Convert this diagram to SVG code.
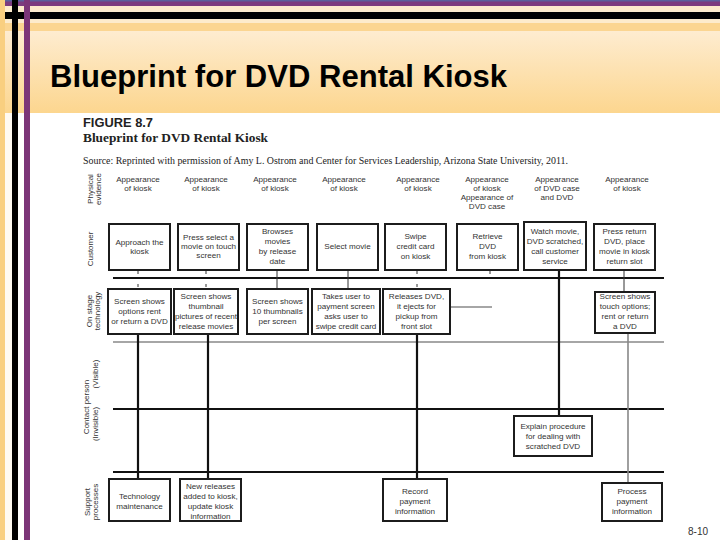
<svg xmlns="http://www.w3.org/2000/svg" width="720" height="540" viewBox="0 0 720 540">
<defs>
<linearGradient id="hdr" x1="0" y1="0" x2="0" y2="1">
<stop offset="0" stop-color="#feecd0"/>
<stop offset="1" stop-color="#fcd68f"/>
</linearGradient>
<style>
.t{font-family:"Liberation Sans",Arial,sans-serif;font-size:8.1px;fill:#333;text-anchor:middle}
.lb{font-family:"Liberation Sans",Arial,sans-serif;font-size:8px;fill:#333;text-anchor:middle}
.box{fill:#fff;stroke:#1c1c1c;stroke-width:2}
.blk{stroke:#111;stroke-width:2.2;fill:none}
.gry{stroke:#888;stroke-width:1.6;fill:none}
.tk{stroke:#333;stroke-width:1;fill:none}
</style>
</defs>
<!-- slide background -->
<rect x="0" y="0" width="720" height="540" fill="#ffffff"/>
<rect x="0" y="0" width="720" height="113" fill="#fdebcc"/>
<rect x="0" y="31" width="720" height="82" fill="url(#hdr)"/>
<rect x="0" y="23" width="720" height="8" fill="#fbd591"/>
<rect x="0" y="0" width="720" height="6" fill="#7c3b7f"/>
<rect x="0" y="0" width="720" height="1.5" fill="#5b5f9c"/>
<rect x="5" y="12" width="715" height="7" fill="#000"/>
<rect x="0" y="0" width="5" height="540" fill="#f9cf80"/>
<rect x="5" y="113" width="7" height="427" fill="#fffaf2"/>
<rect x="12" y="0" width="6" height="540" fill="#000"/>
<rect x="24" y="0" width="6" height="540" fill="#7c3578"/>
<text x="50" y="87" font-family="Liberation Sans,Arial,sans-serif" font-weight="bold" font-size="31" fill="#000" textLength="457" lengthAdjust="spacingAndGlyphs">Blueprint for DVD Rental Kiosk</text>

<!-- figure header -->
<text x="83" y="127" font-family="Liberation Sans,Arial,sans-serif" font-weight="bold" font-size="13" fill="#222" textLength="70" lengthAdjust="spacingAndGlyphs">FIGURE 8.7</text>
<text x="83" y="142" font-family="Liberation Serif,Times New Roman,serif" font-weight="bold" font-size="13.3" fill="#222" textLength="185" lengthAdjust="spacingAndGlyphs">Blueprint for DVD Rental Kiosk</text>
<text x="83" y="164" font-family="Liberation Serif,Times New Roman,serif" font-size="10" fill="#222" textLength="485" lengthAdjust="spacingAndGlyphs">Source: Reprinted with permission of Amy L. Ostrom and Center for Services Leadership, Arizona State University, 2011.</text>

<!-- row labels -->
<g id="row-labels">
<text class="lb" transform="translate(93,189) rotate(-90)">Physical</text>
<text class="lb" transform="translate(101,189) rotate(-90)">evidence</text>
<text class="lb" transform="translate(93,249) rotate(-90)">Customer</text>
<text class="lb" transform="translate(92,311) rotate(-90)">On stage</text>
<text class="lb" transform="translate(100,311) rotate(-90)">technology</text>
<text class="lb" transform="translate(89,407) rotate(-90)">Contact person</text>
<text class="lb" transform="translate(98,374) rotate(-90)">(Visible)</text>
<text class="lb" transform="translate(98,424) rotate(-90)">(Invisible)</text>
<text class="lb" transform="translate(90,502) rotate(-90)">Support</text>
<text class="lb" transform="translate(98,502) rotate(-90)">processes</text>
</g>

<!-- physical evidence -->
<g id="evidence">
<text class="t" x="138" y="182">Appearance</text><text class="t" x="138" y="191">of kiosk</text>
<text class="t" x="206" y="182">Appearance</text><text class="t" x="206" y="191">of kiosk</text>
<text class="t" x="275" y="182">Appearance</text><text class="t" x="275" y="191">of kiosk</text>
<text class="t" x="344" y="182">Appearance</text><text class="t" x="344" y="191">of kiosk</text>
<text class="t" x="418" y="182">Appearance</text><text class="t" x="418" y="191">of kiosk</text>
<text class="t" x="487" y="182">Appearance</text><text class="t" x="487" y="191">of kiosk</text><text class="t" x="487" y="200">Appearance of</text><text class="t" x="487" y="209">DVD case</text>
<text class="t" x="557" y="182">Appearance</text><text class="t" x="557" y="191">of DVD case</text><text class="t" x="557" y="200">and DVD</text>
<text class="t" x="627" y="182">Appearance</text><text class="t" x="627" y="191">of kiosk</text>
</g>

<!-- connectors and lines -->
<g id="connectors">
<line class="blk" x1="113" y1="278" x2="664" y2="278" stroke-width="2.6"/>
<line class="gry" x1="113" y1="342" x2="664" y2="342" stroke-width="2"/>
<line class="blk" x1="113" y1="409" x2="664" y2="409"/>
<line class="blk" x1="113" y1="472" x2="664" y2="472"/>
<line class="blk" x1="138" y1="334" x2="138" y2="479"/>
<line class="blk" x1="208" y1="334" x2="208" y2="479"/>
<line class="blk" x1="417" y1="334" x2="417" y2="479"/>
<line class="blk" x1="559" y1="270" x2="559" y2="416"/>
<line class="gry" x1="628" y1="333" x2="628" y2="483" stroke-width="1.3"/>
<line class="gry" x1="450" y1="307" x2="492" y2="307" stroke-width="0.8"/>
<line class="tk" x1="138" y1="271" x2="138" y2="274"/>
<line class="tk" x1="138" y1="284" x2="138" y2="287"/>
<line class="tk" x1="206" y1="271" x2="206" y2="274"/>
<line class="tk" x1="206" y1="284" x2="206" y2="287"/>
<line class="tk" x1="277" y1="270" x2="277" y2="288"/>
<line class="tk" x1="348" y1="270" x2="348" y2="288"/>
<line class="tk" x1="417" y1="271" x2="417" y2="274"/>
<line class="tk" x1="417" y1="284" x2="417" y2="287"/>
<line class="tk" x1="490" y1="271" x2="490" y2="274"/>
<line class="tk" x1="624" y1="270" x2="624" y2="292"/>
</g>

<!-- customer actions -->
<g id="c1"><rect class="box" x="109" y="224" width="61" height="46"/><text class="t" x="139.5" y="245">Approach the</text><text class="t" x="139.5" y="254">kiosk</text></g>
<g id="c2"><rect class="box" x="178" y="224" width="61" height="46"/><text class="t" x="208.5" y="240">Press select a</text><text class="t" x="208.5" y="249">movie on touch</text><text class="t" x="208.5" y="258">screen</text></g>
<g id="c3"><rect class="box" x="247" y="224" width="61" height="46"/><text class="t" x="277.5" y="234">Browses</text><text class="t" x="277.5" y="244">movies</text><text class="t" x="277.5" y="254">by release</text><text class="t" x="277.5" y="264">date</text></g>
<g id="c4"><rect class="box" x="317" y="224" width="61" height="46"/><text class="t" x="347.5" y="249">Select movie</text></g>
<g id="c5"><rect class="box" x="385" y="224" width="61" height="46"/><text class="t" x="415.5" y="239">Swipe</text><text class="t" x="415.5" y="249">credit card</text><text class="t" x="415.5" y="259">on kiosk</text></g>
<g id="c6"><rect class="box" x="457" y="224" width="61" height="46"/><text class="t" x="487.5" y="239">Retrieve</text><text class="t" x="487.5" y="249">DVD</text><text class="t" x="487.5" y="259">from kiosk</text></g>
<g id="c7"><rect class="box" x="524" y="222" width="62" height="48"/><text class="t" x="555" y="234">Watch movie,</text><text class="t" x="555" y="244">DVD scratched,</text><text class="t" x="555" y="254">call customer</text><text class="t" x="555" y="264">service</text></g>
<g id="c8"><rect class="box" x="594" y="224" width="61" height="46"/><text class="t" x="624.5" y="234">Press return</text><text class="t" x="624.5" y="244">DVD, place</text><text class="t" x="624.5" y="254">movie in kiosk</text><text class="t" x="624.5" y="264">return slot</text></g>

<!-- onstage technology -->
<g id="o1"><rect class="box" x="108" y="289" width="63" height="45"/><text class="t" x="139.5" y="304">Screen shows</text><text class="t" x="139.5" y="314">options rent</text><text class="t" x="139.5" y="324">or return a DVD</text></g>
<g id="o2"><rect class="box" x="174" y="289" width="64" height="45"/><text class="t" x="206" y="299">Screen shows</text><text class="t" x="206" y="309">thumbnail</text><text class="t" x="206" y="319">pictures of recent</text><text class="t" x="206" y="329">release movies</text></g>
<g id="o3"><rect class="box" x="247" y="289" width="61" height="45"/><text class="t" x="277.5" y="304">Screen shows</text><text class="t" x="277.5" y="314">10 thumbnails</text><text class="t" x="277.5" y="324">per screen</text></g>
<g id="o4"><rect class="box" x="312" y="289" width="68" height="45"/><text class="t" x="346" y="299">Takes user to</text><text class="t" x="346" y="309">payment screen</text><text class="t" x="346" y="319">asks user to</text><text class="t" x="346" y="329">swipe credit card</text></g>
<g id="o5"><rect class="box" x="383" y="289" width="67" height="45"/><text class="t" x="416.5" y="299">Releases DVD,</text><text class="t" x="416.5" y="309">it ejects for</text><text class="t" x="416.5" y="319">pickup from</text><text class="t" x="416.5" y="329">front slot</text></g>
<g id="o8"><rect class="box" x="595" y="292" width="60" height="41"/><text class="t" x="625" y="299">Screen shows</text><text class="t" x="625" y="309">touch options;</text><text class="t" x="625" y="319">rent or return</text><text class="t" x="625" y="329">a DVD</text></g>

<!-- contact person -->
<g id="p7"><rect class="box" x="514" y="416" width="78" height="40"/><text class="t" x="553" y="429">Explain procedure</text><text class="t" x="553" y="439">for dealing with</text><text class="t" x="553" y="449">scratched DVD</text></g>

<!-- support processes -->
<g id="s1"><rect class="box" x="109" y="479" width="61" height="42"/><text class="t" x="139.5" y="499">Technology</text><text class="t" x="139.5" y="509">maintenance</text></g>
<g id="s2"><rect class="box" x="180" y="479" width="61" height="42"/><text class="t" x="210.5" y="489">New releases</text><text class="t" x="210.5" y="499">added to kiosk,</text><text class="t" x="210.5" y="509">update kiosk</text><text class="t" x="210.5" y="519">information</text></g>
<g id="s5"><rect class="box" x="383" y="479" width="64" height="42"/><text class="t" x="415" y="494">Record</text><text class="t" x="415" y="504">payment</text><text class="t" x="415" y="514">information</text></g>
<g id="s8"><rect class="box" x="602" y="483" width="60" height="38"/><text class="t" x="632" y="494">Process</text><text class="t" x="632" y="504">payment</text><text class="t" x="632" y="514">information</text></g>

<text x="688" y="535" font-family="Liberation Sans,Arial,sans-serif" font-size="10" fill="#333">8-10</text>
</svg>
